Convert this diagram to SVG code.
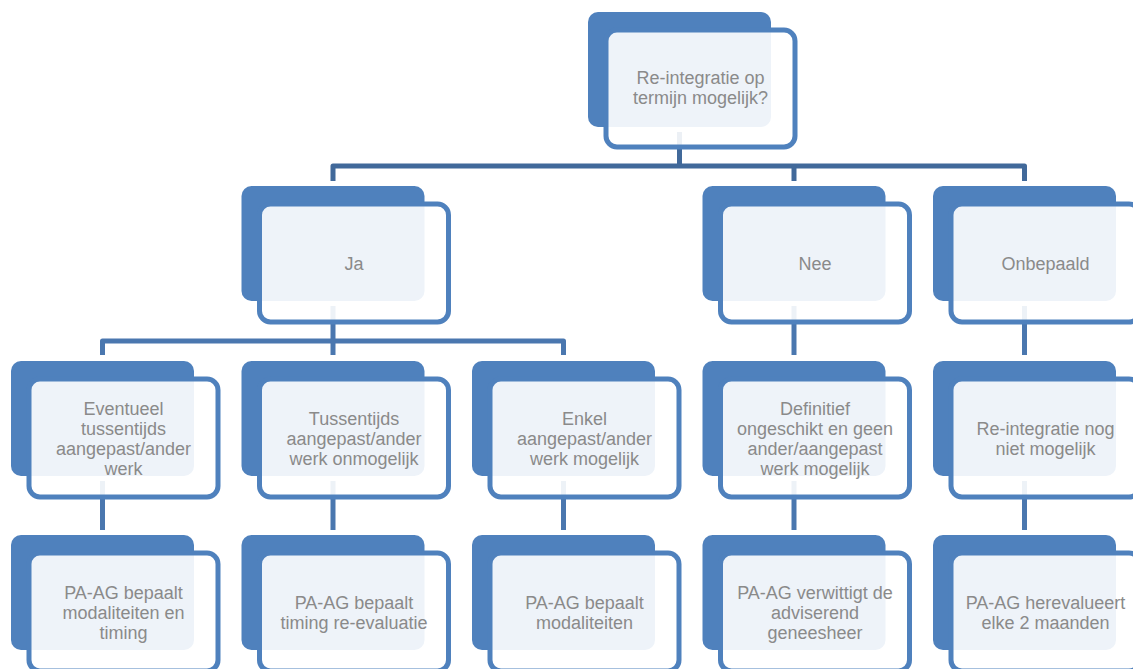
<svg xmlns="http://www.w3.org/2000/svg" width="1133" height="669" viewBox="0 0 1133 669">
<style>
.back{fill:#4F81BD;}
.front{fill:#FFFFFF;fill-opacity:0.9;stroke:#4F81BD;stroke-width:5;}
.t{font-family:"Liberation Sans",Arial,sans-serif;font-size:18px;fill:#8A8A8A;text-anchor:middle;}
.c1{fill:none;stroke:#41699A;stroke-width:5;stroke-linejoin:round;}
.c2{fill:none;stroke:#4A77AF;stroke-width:5;stroke-linejoin:round;}
</style>
<rect width="1133" height="669" fill="#FFFFFF"/>
<g id="connectors">
<path class="c1" d="M679.5,132 V166"/>
<path class="c1" d="M333,181 V166 H1024.5 V181"/>
<path class="c1" d="M794,166 V181"/>
<path class="c2" d="M333,306 V341"/>
<path class="c2" d="M102.5,355 V341 H563.5 V355"/>
<path class="c2" d="M333,341 V355"/>
<path class="c2" d="M794,306 V355"/>
<path class="c2" d="M1024.5,306 V355"/>
<path class="c2" d="M102.5,481 V530"/>
<path class="c2" d="M333,481 V530"/>
<path class="c2" d="M563.5,481 V530"/>
<path class="c2" d="M794,481 V530"/>
<path class="c2" d="M1024.5,481 V530"/>
</g>
<g id="n-root">
<rect class="back" x="588" y="12" width="183" height="115" rx="10"/>
<rect class="front" x="606" y="30" width="189" height="117" rx="11"/>
<text class="t" x="700.5" y="84">Re-integratie op</text>
<text class="t" x="700.5" y="104">termijn mogelijk?</text>
</g>
<g id="n-ja">
<rect class="back" x="241.5" y="186" width="183" height="115" rx="10"/>
<rect class="front" x="259.5" y="204" width="189" height="118" rx="11"/>
<text class="t" x="354" y="269.5">Ja</text>
</g>
<g id="n-nee">
<rect class="back" x="702.5" y="186" width="183" height="115" rx="10"/>
<rect class="front" x="720.5" y="204" width="189" height="118" rx="11"/>
<text class="t" x="815" y="269.5">Nee</text>
</g>
<g id="n-onbepaald">
<rect class="back" x="933" y="186" width="183" height="115" rx="10"/>
<rect class="front" x="951" y="204" width="189" height="118" rx="11"/>
<text class="t" x="1045.5" y="269.5">Onbepaald</text>
</g>
<g id="n-eventueel">
<rect class="back" x="11" y="361" width="183" height="115" rx="10"/>
<rect class="front" x="29" y="379" width="189" height="118" rx="11"/>
<text class="t" x="123.5" y="414.5">Eventueel</text>
<text class="t" x="123.5" y="434.5">tussentijds</text>
<text class="t" x="123.5" y="454.5">aangepast/ander</text>
<text class="t" x="123.5" y="474.5">werk</text>
</g>
<g id="n-tussentijds">
<rect class="back" x="241.5" y="361" width="183" height="115" rx="10"/>
<rect class="front" x="259.5" y="379" width="189" height="118" rx="11"/>
<text class="t" x="354" y="424.5">Tussentijds</text>
<text class="t" x="354" y="444.5">aangepast/ander</text>
<text class="t" x="354" y="464.5">werk onmogelijk</text>
</g>
<g id="n-enkel">
<rect class="back" x="472" y="361" width="183" height="115" rx="10"/>
<rect class="front" x="490" y="379" width="189" height="118" rx="11"/>
<text class="t" x="584.5" y="424.5">Enkel</text>
<text class="t" x="584.5" y="444.5">aangepast/ander</text>
<text class="t" x="584.5" y="464.5">werk mogelijk</text>
</g>
<g id="n-definitief">
<rect class="back" x="702.5" y="361" width="183" height="115" rx="10"/>
<rect class="front" x="720.5" y="379" width="189" height="118" rx="11"/>
<text class="t" x="815" y="414.5">Definitief</text>
<text class="t" x="815" y="434.5">ongeschikt en geen</text>
<text class="t" x="815" y="454.5">ander/aangepast</text>
<text class="t" x="815" y="474.5">werk mogelijk</text>
</g>
<g id="n-nietmogelijk">
<rect class="back" x="933" y="361" width="183" height="115" rx="10"/>
<rect class="front" x="951" y="379" width="189" height="118" rx="11"/>
<text class="t" x="1045.5" y="434.5">Re-integratie nog</text>
<text class="t" x="1045.5" y="454.5">niet mogelijk</text>
</g>
<g id="n-pa1">
<rect class="back" x="11" y="535" width="183" height="115" rx="10"/>
<rect class="front" x="29" y="553" width="189" height="118" rx="11"/>
<text class="t" x="123.5" y="598.5">PA-AG bepaalt</text>
<text class="t" x="123.5" y="618.5">modaliteiten en</text>
<text class="t" x="123.5" y="638.5">timing</text>
</g>
<g id="n-pa2">
<rect class="back" x="241.5" y="535" width="183" height="115" rx="10"/>
<rect class="front" x="259.5" y="553" width="189" height="118" rx="11"/>
<text class="t" x="354" y="608.5">PA-AG bepaalt</text>
<text class="t" x="354" y="628.5">timing re-evaluatie</text>
</g>
<g id="n-pa3">
<rect class="back" x="472" y="535" width="183" height="115" rx="10"/>
<rect class="front" x="490" y="553" width="189" height="118" rx="11"/>
<text class="t" x="584.5" y="608.5">PA-AG bepaalt</text>
<text class="t" x="584.5" y="628.5">modaliteiten</text>
</g>
<g id="n-pa4">
<rect class="back" x="702.5" y="535" width="183" height="115" rx="10"/>
<rect class="front" x="720.5" y="553" width="189" height="118" rx="11"/>
<text class="t" x="815" y="598.5">PA-AG verwittigt de</text>
<text class="t" x="815" y="618.5">adviserend</text>
<text class="t" x="815" y="638.5">geneesheer</text>
</g>
<g id="n-pa5">
<rect class="back" x="933" y="535" width="183" height="115" rx="10"/>
<rect class="front" x="951" y="553" width="189" height="118" rx="11"/>
<text class="t" x="1045.5" y="608.5">PA-AG herevalueert</text>
<text class="t" x="1045.5" y="628.5">elke 2 maanden</text>
</g>
</svg>
